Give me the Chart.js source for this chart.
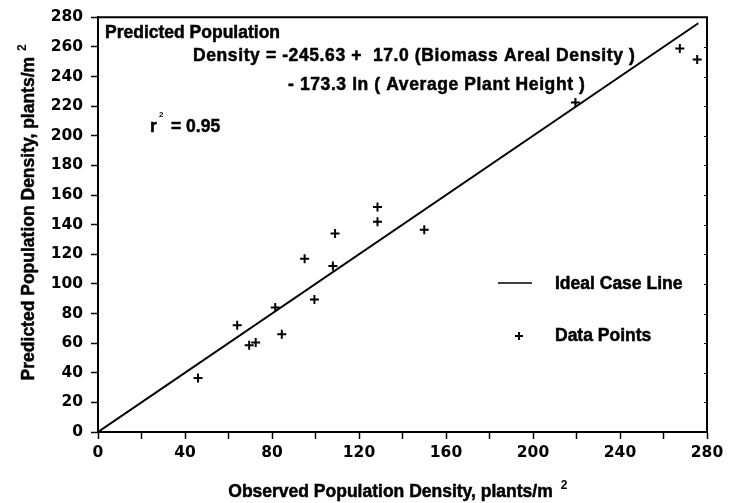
<!DOCTYPE html>
<html><head><meta charset="utf-8">
<script src="https://cdn.jsdelivr.net/npm/chart.js@4.4.0/dist/chart.umd.min.js"></script>
<style>html,body{margin:0;padding:0;background:#fff;}canvas{display:block;}</style>
</head><body>
<canvas id="c" width="739" height="503"></canvas>
<script>
// Observed vs predicted population density (plants/m^2)
const observed  = [46, 64, 69.5, 72.5, 81.5, 84.5, 95, 99.5, 108, 109, 128.5, 128.5, 150, 219.5, 267.5, 275.5];
const predicted = [36.5, 72, 58.5, 60.5, 84, 66, 117, 89.5, 112, 134, 152, 142, 136.5, 222.5, 259, 251.5];
// Ideal case line (1:1)
const idealX = [0, 276];
const idealY = [0, 276];
// Tick labels
const xTickLabels = [0, 40, 80, 120, 160, 200, 240, 280];
const yTickLabels = [0, 20, 40, 60, 80, 100, 120, 140, 160, 180, 200, 220, 240, 260, 280];

const TXT = '"Liberation Sans", Arial, sans-serif';
const NUM = '"DejaVu Sans", sans-serif';

function heavyText(ctx, s, x, y) {
  ctx.fillText(s, x, y);
  ctx.strokeText(s, x, y);
}

const decor = {
  id: 'decor',
  afterDraw(chart) {
    const ctx = chart.ctx, a = chart.chartArea, ys = chart.scales.y;
    ctx.save();
    // frame
    ctx.strokeStyle = '#000'; ctx.lineWidth = 2;
    ctx.beginPath();
    ctx.moveTo(a.left, a.top); ctx.lineTo(a.right, a.top); ctx.lineTo(a.right, a.bottom);
    ctx.stroke();
    // small inward ticks on right edge
    ctx.lineWidth = 1;
    yTickLabels.forEach(v => {
      const py = Math.round(ys.getPixelForValue(v)) + 0.5;
      ctx.beginPath(); ctx.moveTo(a.right - 3, py); ctx.lineTo(a.right, py); ctx.stroke();
    });
    ctx.fillStyle = '#000';
    ctx.textBaseline = 'alphabetic';
    ctx.textAlign = 'left';
    ctx.lineWidth = 0.5;
    const f = s => 'bold ' + s + 'px ' + TXT;
    ctx.font = f(17.5);
    heavyText(ctx, 'Predicted Population', 105, 38);
    ctx.letterSpacing = '0.6px';
    heavyText(ctx, 'Density = -245.63 +  17.0 (Biomass Areal Density )', 193, 61);
    heavyText(ctx, '- 173.3 ln ( Average Plant Height )', 288, 90);
    ctx.letterSpacing = '0px';
    heavyText(ctx, 'r', 150, 132);
    ctx.font = f(8);
    ctx.fillText('2', 159, 117);
    ctx.font = f(17.5);
    heavyText(ctx, '= 0.95', 171, 132);

    // legend
    ctx.lineWidth = 1.5;
    ctx.beginPath(); ctx.moveTo(498, 283); ctx.lineTo(532, 283); ctx.stroke();
    ctx.lineWidth = 0.5;
    heavyText(ctx, 'Ideal Case Line', 555, 289);
    ctx.lineWidth = 2;
    ctx.beginPath();
    ctx.moveTo(515, 336); ctx.lineTo(523, 336);
    ctx.moveTo(519, 332); ctx.lineTo(519, 340);
    ctx.stroke();
    ctx.lineWidth = 0.5;
    heavyText(ctx, 'Data Points', 555, 341);

    // x axis title
    const xt = 'Observed Population Density, plants/m';
    const w = ctx.measureText(xt).width;
    const cx = (a.left + a.right) / 2 - 12;
    const sx = cx - w / 2;
    heavyText(ctx, xt, sx, 497);
    ctx.font = f(12);
    ctx.fillText('2', sx + w + 8, 489);

    // y axis title
    ctx.font = f(17.5);
    const yt = 'Predicted Population Density, plants/m';
    const wy = ctx.measureText(yt).width;
    ctx.save();
    ctx.translate(34, (a.top + a.bottom) / 2 - 6);
    ctx.rotate(-Math.PI / 2);
    heavyText(ctx, yt, -wy / 2, 0);
    ctx.font = f(12);
    ctx.fillText('2', -wy / 2 + wy + 6, -8);
    ctx.restore();
    ctx.restore();
  }
};

const axisCommon = (labels) => ({
  type: 'linear', min: 0, max: 280,
  ticks: {
    stepSize: 20, autoSkip: false, maxRotation: 0, color: '#000',
    font: { family: NUM, weight: 'bold', size: 15.5 },
    callback: v => labels.includes(v) ? String(v) : ''
  },
  grid: { drawOnChartArea: false, tickLength: 7, tickColor: '#000', tickWidth: 1.5 },
  border: { display: true, color: '#000', width: 2 }
});

const xAxis = axisCommon(xTickLabels);
xAxis.ticks.padding = 5;
xAxis.afterFit = s => { s.height = 71; };
const yAxis = axisCommon(yTickLabels);
yAxis.ticks.padding = 8;
yAxis.afterFit = s => { s.width = 98; };

new Chart(document.getElementById('c'), {
  type: 'scatter',
  data: {
    datasets: [
      {
        label: 'Ideal Case Line',
        data: idealX.map((x, i) => ({ x, y: idealY[i] })),
        showLine: true, borderColor: '#000', borderWidth: 2,
        pointRadius: 0, fill: false
      },
      {
        label: 'Data Points',
        data: observed.map((x, i) => ({ x, y: predicted[i] })),
        pointStyle: 'cross', pointRadius: 4.5, borderColor: '#000',
        backgroundColor: '#000', borderWidth: 2
      }
    ]
  },
  options: {
    responsive: false, animation: false,
    layout: { padding: { left: 0, top: 16, right: 32, bottom: 0 } },
    plugins: { legend: { display: false }, tooltip: { enabled: false } },
    scales: { x: xAxis, y: yAxis }
  },
  plugins: [decor]
});
</script>
</body></html>
